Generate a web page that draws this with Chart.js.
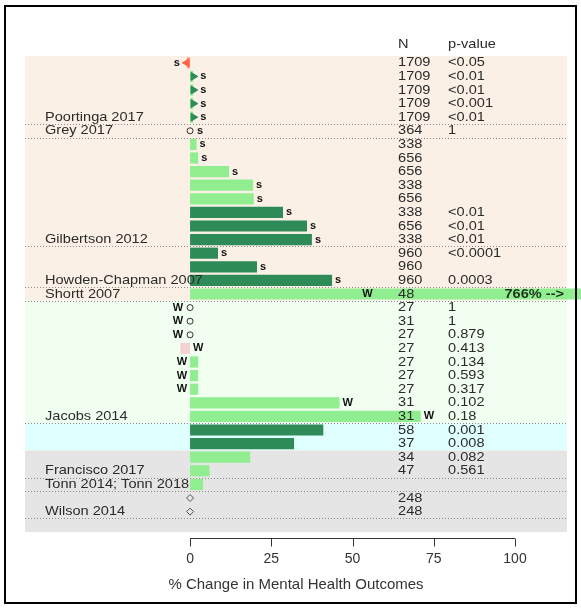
<!DOCTYPE html>
<html>
<head>
<meta charset="utf-8">
<script src="https://cdn.jsdelivr.net/npm/chart.js@4/dist/chart.umd.min.js"></script>
<style>
  html, body { margin: 0; background: #fff; }
  canvas { display: block; }
</style>
</head>
<body>
<canvas id="c" width="581" height="608"></canvas>
<script>
// ------------------------------------------------------------
//  Mental health outcomes forest-style bar chart (rows top -> bottom)
// ------------------------------------------------------------
const studyLabel = ['', '', '', '', 'Poortinga 2017', 'Grey 2017', '', '', '', '', '', '', '', 'Gilbertson 2012',
  '', '', 'Howden-Chapman 2007', 'Shortt 2007', '', '', '', '', '', '', '', '', 'Jacobs 2014', '', '', '',
  'Francisco 2017', 'Tonn 2014; Tonn 2018', '', 'Wilson 2014'];

const sampleN = ['1709', '1709', '1709', '1709', '1709', '364', '338', '656', '656', '338', '656', '338', '656', '338',
  '960', '960', '960', '48', '27', '31', '27', '27', '27', '27', '27', '31', '31', '58', '37', '34', '47', '', '248', '248'];

const pValue = ['<0.05', '<0.01', '<0.01', '<0.001', '<0.01', '1', '', '', '', '', '', '<0.01', '<0.01', '<0.01',
  '<0.0001', '', '0.0003', '', '1', '1', '0.879', '0.413', '0.134', '0.593', '0.317', '0.102', '0.18', '0.001',
  '0.008', '0.082', '0.561', '', '', ''];

// % change in mental health outcomes
const pctChange = [-1, 1, 1, 1, 1, 0, 2, 2.5, 12, 19.4, 19.6, 28.6, 36, 37.5, 8.6, 20.6, 43.7, 766,
  0, 0, 0, -3, 2.5, 2.5, 2.5, 46, 71, 41, 32, 18.5, 6, 4, 0, 0];

// significance mark: s / W
const sigMark = ['s', 's', 's', 's', 's', 's', 's', 's', 's', 's', 's', 's', 's', 's', 's', 's', 's', 'W',
  'W', 'W', 'W', 'W', 'W', 'W', 'W', 'W', 'W', '', '', '', '', '', '', ''];
const labelSide = [-1, 1, 1, 1, 1, 1, 1, 1, 1, 1, 1, 1, 1, 1, 1, 1, 1, 1,
  -1, -1, -1, 1, -1, -1, -1, 1, 1, 1, 1, 1, 1, 1, 1, 1];

const markerKind = ['left', 'right', 'right', 'right', 'right', 'open', '', '', '', '', '', '', '', '', '', '', '', '',
  'open', 'open', 'open', '', '', '', '', '', '', '', '', '', '', '', 'diamond', 'diamond'];

const barTone = ['neg', 'light', 'light', 'light', 'light', 'light', 'light', 'light', 'light', 'light', 'light',
  'dark', 'dark', 'dark', 'dark', 'dark', 'dark', 'light', 'light', 'light', 'light', 'negLight', 'light', 'light',
  'light', 'light', 'light', 'dark', 'dark', 'light', 'light', 'light', 'light', 'light'];

const tickVals = [0, 25, 50, 75, 100];
const xTitle = '% Change in Mental Health Outcomes';

// one spare row at the bottom (grey band runs on a bit)
const rowIds = [...pctChange.map((_, i) => 'r' + i), 'pad'];

// ---------- styling ----------
const FONT = "'Liberation Sans', Arial, sans-serif";
const SX = 1.12;            // reference text is a bit wide
const INK = '#2b2b2b';
const toneColor = { light: '#90ee90', dark: '#2e8b57', neg: '#ffa07a', negLight: '#f5d2d2' };
const zones = [
  { from: 0, to: 17, color: '#faf0e6' },
  { from: 18, to: 26, color: '#f0fff0' },
  { from: 27, to: 28, color: '#e0ffff' },
  { from: 29, to: 34, color: '#e5e5e5' },
];
const markerStyle = {
  left:    { style: 'triangle', rot: -90, fill: '#ff6347', line: '#ff6347', r: 4.5 },
  right:   { style: 'triangle', rot: 90,  fill: '#2e8b57', line: '#2e8b57', r: 4.5 },
  open:    { style: 'circle',   rot: 0,   fill: 'rgba(0,0,0,0)', line: '#333', r: 3 },
  diamond: { style: 'rectRot',  rot: 0,   fill: 'rgba(0,0,0,0)', line: '#555', r: 3.5 },
};
const N_COL = 64, P_COL = 79.4, OVER_LABEL_AT = 53;

const markerIdx = markerKind.map((k, i) => (k ? i : -1)).filter((i) => i >= 0);
const ms = (key) => markerIdx.map((i) => markerStyle[markerKind[i]][key]);

function put(ctx, s, x, y, align, font, color, sx = SX) {
  ctx.save();
  ctx.font = font; ctx.fillStyle = color; ctx.textAlign = align; ctx.textBaseline = 'middle';
  ctx.translate(x, y); ctx.scale(sx, 1); ctx.fillText(s, 0, 0);
  ctx.restore();
}

const decor = {
  id: 'decor',
  beforeDatasetsDraw(chart) {
    const { ctx, chartArea: a, scales: { y } } = chart;
    const rh = (a.bottom - a.top) / rowIds.length;
    const top = (i) => y.getPixelForValue(i) - rh / 2;
    ctx.save();
    zones.forEach((z) => {
      ctx.fillStyle = z.color;
      ctx.fillRect(a.left, top(z.from), a.right - a.left, top(z.to) + rh - top(z.from));
    });
    // dotted separators under each study
    ctx.strokeStyle = '#8c8c8c'; ctx.lineWidth = 1; ctx.setLineDash([1, 2]);
    studyLabel.forEach((s, i) => {
      if (!s) return;
      const yy = Math.round(top(i) + rh) + 0.5;
      ctx.beginPath(); ctx.moveTo(a.left, yy); ctx.lineTo(a.right, yy); ctx.stroke();
    });
    ctx.restore();
  },
  afterDatasetsDraw(chart) {
    const { ctx, chartArea: a, scales: { x, y } } = chart;
    const f13 = `13px ${FONT}`;
    put(ctx, 'N', x.getPixelForValue(N_COL), a.top - 12, 'left', f13, INK);
    put(ctx, 'p-value', x.getPixelForValue(P_COL), a.top - 12, 'left', f13, INK);
    pctChange.forEach((v, i) => {
      const cy = y.getPixelForValue(i);
      if (studyLabel[i]) put(ctx, studyLabel[i], a.left + 20, cy, 'left', f13, INK);
      if (sampleN[i]) put(ctx, sampleN[i], x.getPixelForValue(N_COL), cy, 'left', f13, INK);
      if (pValue[i]) put(ctx, pValue[i], x.getPixelForValue(P_COL), cy, 'left', f13, INK);
      const gap = markerKind[i] ? 7 : 3;
      if (v > x.max) {
        put(ctx, v + '% -->', a.right - 3, cy, 'right', `bold 13px ${FONT}`, '#1e331e');
        if (sigMark[i]) put(ctx, sigMark[i], x.getPixelForValue(OVER_LABEL_AT), cy, 'left', `bold 11px ${FONT}`, '#111', 1);
      } else if (sigMark[i]) {
        const side = labelSide[i];
        const px = side > 0 ? x.getPixelForValue(Math.max(v, 0)) + gap : x.getPixelForValue(Math.min(v, 0)) - gap;
        put(ctx, sigMark[i], px, cy, side > 0 ? 'left' : 'right', `bold 11px ${FONT}`, '#111', 1);
      }
    });
  },
  afterDraw(chart) {
    const { ctx, chartArea: a, scales: { x } } = chart;
    const ay = Math.round(a.bottom + 6) + 0.5;
    ctx.save();
    ctx.strokeStyle = '#333'; ctx.lineWidth = 1;
    ctx.beginPath();
    ctx.moveTo(x.getPixelForValue(tickVals[0]), ay);
    ctx.lineTo(x.getPixelForValue(tickVals[tickVals.length - 1]), ay);
    tickVals.forEach((t) => {
      const px = Math.round(x.getPixelForValue(t)) + 0.5;
      ctx.moveTo(px, ay); ctx.lineTo(px, ay + 8);
    });
    ctx.stroke();
    // outer frame
    ctx.strokeStyle = '#000'; ctx.lineWidth = 2;
    ctx.strokeRect(5, 6, 571, 597);
    ctx.restore();
  },
};

new Chart(document.getElementById('c'), {
  type: 'bar',
  data: {
    labels: rowIds,
    datasets: [
      {
        type: 'line', data: markerIdx.map((i) => ({ x: pctChange[i], y: rowIds[i] })),
        showLine: false, pointStyle: ms('style'), rotation: ms('rot'), pointRadius: ms('r'),
        backgroundColor: ms('fill'), borderColor: ms('line'), pointBorderWidth: 1, clip: false, order: 1,
      },
      {
        type: 'bar', data: pctChange, backgroundColor: barTone.map((t) => toneColor[t]),
        barPercentage: 0.82, categoryPercentage: 1, clip: false, order: 2,
      },
    ],
  },
  options: {
    indexAxis: 'y',
    responsive: false,
    animation: false,
    layout: { padding: { left: 25, right: 14, top: 56, bottom: 0 } },
    plugins: { legend: { display: false }, tooltip: { enabled: false } },
    scales: {
      x: {
        type: 'linear', min: -50.8, max: 116,
        grid: { display: false }, border: { display: false },
        afterBuildTicks: (s) => { s.ticks = tickVals.map((v) => ({ value: v })); },
        afterFit: (s) => { s.height = 76; },
        ticks: { color: '#333', font: { size: 14, family: FONT }, padding: 11, maxRotation: 0 },
        title: { display: true, text: xTitle, color: '#333', font: { size: 15, family: FONT }, padding: { top: 0, bottom: 14 } },
      },
      y: { type: 'category', display: false, offset: true },
    },
  },
  plugins: [decor],
});
</script>
</body>
</html>
